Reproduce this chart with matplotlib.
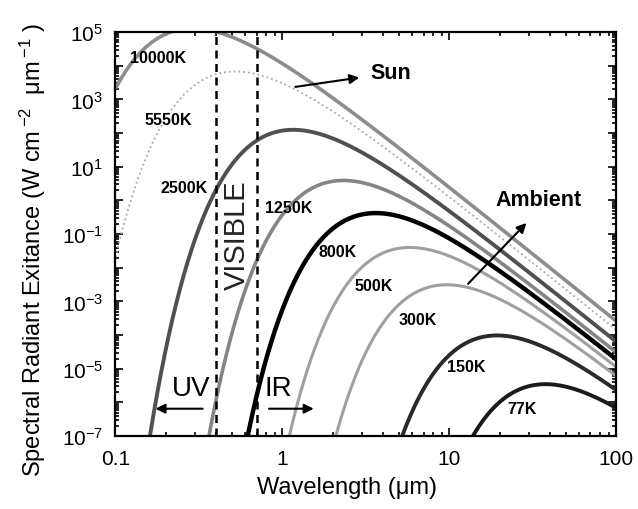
import numpy as np
import matplotlib
matplotlib.use("Agg")
import matplotlib.pyplot as plt
from matplotlib.ticker import LogLocator, FuncFormatter, NullFormatter

plt.rcParams["font.family"] = ["Liberation Sans", "DejaVu Sans"]
plt.rcParams["mathtext.fontset"] = "custom"
plt.rcParams["mathtext.rm"] = "Liberation Sans"
plt.rcParams["mathtext.it"] = "Liberation Sans:italic"
plt.rcParams["mathtext.bf"] = "Liberation Sans:bold"

# Blackbody temperatures (K) and their curve styles
temperatures = [10000, 5550, 2500, 1250, 800, 500, 300, 150, 77]
temp_labels = ["10000K", "5550K", "2500K", "1250K", "800K", "500K", "300K", "150K", "77K"]
line_colors = ["#8c8c8c", "#a8a8a8", "#505050", "#858585", "#000000",
               "#a0a0a0", "#a0a0a0", "#2a2a2a", "#1a1a1a"]
line_widths = [2.6, 1.3, 2.8, 2.6, 3.2, 2.2, 2.2, 2.8, 2.8]
line_styles = ["-", ":", "-", "-", "-", "-", "-", "-", "-"]
label_pos = [(0.123, 1.8e4), (0.149, 2.6e2), (0.186, 2.5), (0.79, 0.6),
             (1.64, 3.0e-2), (2.7, 2.9e-3), (4.95, 3.0e-4), (9.7, 1.15e-5), (22.2, 6.5e-7)]

# Visible band edges (um)
visible_band = [0.4, 0.7]

# Wavelength grid (um)
wavelength = np.logspace(-1, 2, 1200)

h = 6.62607015e-34
c = 2.99792458e8
kB = 1.380649e-23


def spectral_exitance(lam_um, T):
    """Planck spectral radiant exitance in W cm^-2 um^-1."""
    lam = lam_um * 1e-6
    x = h * c / (lam * kB * T)
    with np.errstate(over="ignore"):
        m = 2 * np.pi * h * c ** 2 / lam ** 5 / np.expm1(x)
    return m * 1e-10


fig = plt.figure(figsize=(6.38, 5.10), dpi=100)
ax = fig.add_axes([0.181, 0.143, 0.785, 0.792])

for T, lab, col, lw, ls, (lx, ly) in zip(temperatures, temp_labels, line_colors,
                                         line_widths, line_styles, label_pos):
    ax.plot(wavelength, spectral_exitance(wavelength, T), color=col, lw=lw, ls=ls,
            solid_capstyle="butt")
    ax.text(lx, ly, lab, fontsize=11.5, fontweight="bold", ha="left", va="center")

for xv in visible_band:
    ax.axvline(xv, color="black", lw=1.8, ls=(0, (3.2, 2.2)))

ax.set_xscale("log")
ax.set_yscale("log")
ax.set_xlim(0.1, 100)
ax.set_ylim(1e-7, 1e5)

ax.xaxis.set_major_locator(LogLocator(base=10, numticks=10))
ax.xaxis.set_minor_locator(LogLocator(base=10, subs=np.arange(2, 10), numticks=20))
ax.xaxis.set_major_formatter(FuncFormatter(lambda v, p: "{:g}".format(v)))
ax.xaxis.set_minor_formatter(NullFormatter())

ax.yaxis.set_major_locator(LogLocator(base=10, numticks=20))
ax.yaxis.set_minor_locator(LogLocator(base=10, subs=np.arange(2, 10), numticks=40))


def ylab(v, p):
    e = int(round(np.log10(v)))
    return r"$10^{%d}$" % e if e % 2 else ""


ax.yaxis.set_major_formatter(FuncFormatter(ylab))
ax.yaxis.set_minor_formatter(NullFormatter())

ax.tick_params(which="both", direction="in", top=True, right=True, width=1.2)
ax.tick_params(which="major", length=6, labelsize=15)
ax.tick_params(which="minor", length=3)
ax.tick_params(axis="x", which="major", pad=9)
ax.tick_params(axis="y", which="major", pad=9)
for s in ax.spines.values():
    s.set_linewidth(1.6)

ax.set_xlabel("Wavelength (\u03bcm)", fontsize=17)
ax.set_ylabel("Spectral Radiant Exitance (W cm$\\,^{-2}$  \u03bcm$\\,^{-1}$ )", fontsize=17)
ax.xaxis.set_label_coords(0.463, -0.1)
ax.yaxis.set_label_coords(-0.135, 0.463)

# Region labels
ax.text(0.535, 1e-1, "VISIBLE", rotation=90, fontsize=21, ha="center", va="center",
        color="#222222")
ax.text(0.285, 2.6e-6, "UV", fontsize=20, ha="center", va="center")
ax.text(0.95, 2.6e-6, "IR", fontsize=20, ha="center", va="center")
arrow = dict(arrowstyle="-|>", color="black", lw=1.5, mutation_scale=14)
ax.annotate("", xy=(0.167, 6.5e-7), xytext=(0.346, 6.5e-7), arrowprops=arrow)
ax.annotate("", xy=(1.6, 6.5e-7), xytext=(0.80, 6.5e-7), arrowprops=arrow)

# Group annotations
ax.annotate("", xy=(3.0, 4.6e3), xytext=(1.15, 2.3e3), arrowprops=arrow)
ax.text(3.35, 6.5e3, "Sun", fontsize=15.5, fontweight="bold", ha="left", va="center")
ax.annotate("", xy=(29.7, 0.245), xytext=(12.6, 2.9e-3), arrowprops=arrow)
ax.text(18.8, 1.1, "Ambient", fontsize=15.5, fontweight="bold", ha="left", va="center")

fig.savefig("out.png", dpi=100)
